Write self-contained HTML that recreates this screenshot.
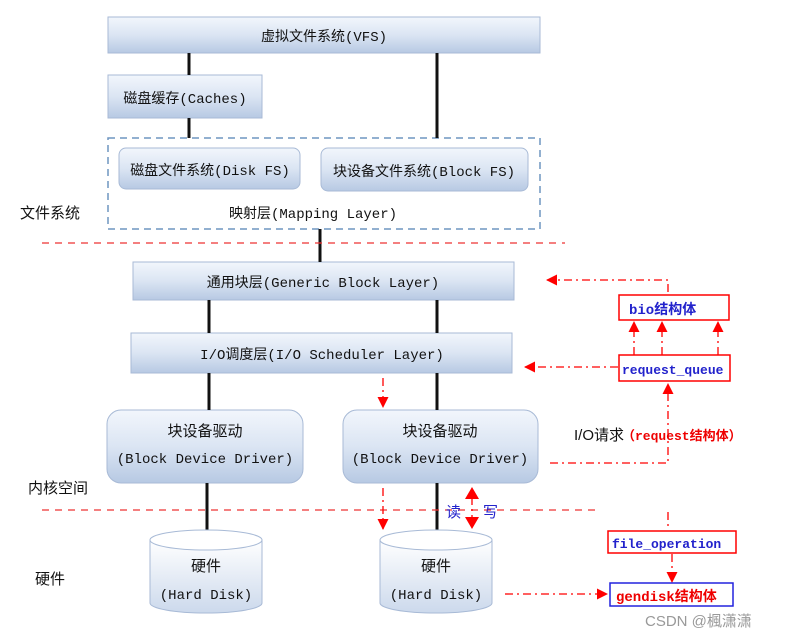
<!DOCTYPE html>
<html><head><meta charset="utf-8">
<style>
html,body{margin:0;padding:0;background:#fff;}
svg{display:block;}
text{font-family:"Liberation Mono","Noto Sans CJK SC",monospace;}
.cn{font-family:"Liberation Sans","Noto Sans CJK SC",sans-serif;}
</style></head><body>
<svg width="793" height="636" viewBox="0 0 793 636" xmlns="http://www.w3.org/2000/svg">
<defs>
<linearGradient id="g" x1="0" y1="0" x2="0" y2="1">
<stop offset="0" stop-color="#f2f6fc"/><stop offset="0.5" stop-color="#dbe5f3"/><stop offset="1" stop-color="#b7c9e3"/>
</linearGradient>
<linearGradient id="gc" x1="0" y1="0" x2="0" y2="1">
<stop offset="0" stop-color="#ffffff"/><stop offset="1" stop-color="#ccd9ec"/>
</linearGradient>
<marker id="ar" markerWidth="11" markerHeight="11" refX="10" refY="5.5" orient="auto" markerUnits="userSpaceOnUse">
<path d="M0,0 L11,5.5 L0,11 Z" fill="#f00"/></marker>
</defs>
<g stroke="#a8bad6" stroke-width="1">
<rect x="108" y="17" width="432" height="36" fill="url(#g)"/>
<rect x="108" y="75" width="154" height="43" fill="url(#g)"/>
<rect x="119" y="148" width="181" height="41" rx="7" fill="url(#g)"/>
<rect x="321" y="148" width="207" height="43" rx="7" fill="url(#g)"/>
<rect x="133" y="262" width="381" height="38" fill="url(#g)"/>
<rect x="131" y="333" width="381" height="40" fill="url(#g)"/>
<rect x="107" y="410" width="196" height="73" rx="14" fill="url(#g)"/>
<rect x="343" y="410" width="195" height="73" rx="14" fill="url(#g)"/>
</g>
<rect x="108" y="138" width="432" height="91" fill="none" stroke="#6f95c0" stroke-width="1.5" stroke-dasharray="7,5"/>
<g stroke="#111" stroke-width="3">
<line x1="189" y1="53" x2="189" y2="75"/><line x1="189" y1="118" x2="189" y2="138"/>
<line x1="437" y1="53" x2="437" y2="138"/><line x1="320" y1="229" x2="320" y2="262"/>
<line x1="209" y1="300" x2="209" y2="333"/><line x1="437" y1="300" x2="437" y2="333"/>
<line x1="209" y1="373" x2="209" y2="410"/><line x1="437" y1="373" x2="437" y2="410"/>
<line x1="207" y1="483" x2="207" y2="531"/><line x1="437" y1="483" x2="437" y2="531"/>
</g>
<g stroke="#a8bad6" stroke-width="1">
<path d="M150,540 L150,603 A56,10 0 0 0 262,603 L262,540 Z" fill="url(#gc)"/>
<ellipse cx="206" cy="540" rx="56" ry="10" fill="#fff"/>
<path d="M380,540 L380,603 A56,10 0 0 0 492,603 L492,540 Z" fill="url(#gc)"/>
<ellipse cx="436" cy="540" rx="56" ry="10" fill="#fff"/>
</g>
<g stroke="#e33" stroke-width="1.3" fill="none">
<line x1="42" y1="243" x2="565" y2="243" stroke-dasharray="7,6"/>
<line x1="42" y1="510" x2="600" y2="510" stroke-dasharray="7,6"/>
</g>
<g stroke="#f00" stroke-width="1.3" fill="none" stroke-dasharray="8,4,2,4">
<polyline points="668,292 668,280 547,280" marker-end="url(#ar)"/>
<line x1="618" y1="367" x2="525" y2="367" marker-end="url(#ar)"/>
<line x1="634" y1="355" x2="634" y2="322" marker-end="url(#ar)"/>
<line x1="662" y1="355" x2="662" y2="322" marker-end="url(#ar)"/>
<line x1="718" y1="355" x2="718" y2="322" marker-end="url(#ar)"/>
<polyline points="550,463 668,463 668,384" marker-end="url(#ar)"/>
<line x1="383" y1="378" x2="383" y2="407" marker-end="url(#ar)"/>
<line x1="383" y1="488" x2="383" y2="529" marker-end="url(#ar)"/>
<line x1="668" y1="512" x2="668" y2="530"/>
<line x1="672" y1="554" x2="672" y2="582" marker-end="url(#ar)"/>
<line x1="505" y1="594" x2="607" y2="594" marker-end="url(#ar)"/>
<line x1="472" y1="497" x2="472" y2="520"/>
</g>
<path d="M465,499 L472,487 L479,499 Z M465,517 L472,529 L479,517 Z" fill="#f00"/>
<g fill="#fff" stroke-width="1.5">
<rect x="619" y="295" width="110" height="25" stroke="#f00"/>
<rect x="619" y="355" width="111" height="26" stroke="#f00"/>
<rect x="608" y="531" width="128" height="22" stroke="#f00"/>
<rect x="610" y="583" width="123" height="23" stroke="#22d"/>
</g>
<g font-size="14" fill="#111" text-anchor="middle">
<text x="324" y="41">虚拟文件系统(VFS)</text>
<text x="185" y="103">磁盘缓存(Caches)</text>
<text x="210" y="175">磁盘文件系统(Disk FS)</text>
<text x="424" y="176">块设备文件系统(Block FS)</text>
<text x="313" y="218">映射层(Mapping Layer)</text>
<text x="323" y="287">通用块层(Generic Block Layer)</text>
<text x="322" y="359">I/O调度层(I/O Scheduler Layer)</text>
<text x="205" y="436" class="cn" font-size="15">块设备驱动</text>
<text x="205" y="463">(Block Device Driver)</text>
<text x="440" y="436" class="cn" font-size="15">块设备驱动</text>
<text x="440" y="463">(Block Device Driver)</text>
<text x="206" y="571" class="cn" font-size="15">硬件</text>
<text x="206" y="599">(Hard Disk)</text>
<text x="436" y="571" class="cn" font-size="15">硬件</text>
<text x="436" y="599">(Hard Disk)</text>
</g>
<g font-size="15" fill="#111">
<text x="20" y="218" class="cn">文件系统</text>
<text x="28" y="493" class="cn">内核空间</text>
<text x="35" y="584" class="cn">硬件</text>
<text x="574" y="440" class="cn">I/O请求</text>
</g>
<text x="622" y="440" font-size="13" fill="#e00" font-weight="bold">（request结构体）</text>
<text x="446" y="517" class="cn" font-size="15" fill="#22c">读</text>
<text x="483" y="517" class="cn" font-size="15" fill="#22c">写</text>
<text x="629" y="314" font-size="14" fill="#22c" font-weight="bold">bio结构体</text>
<text x="622" y="374" font-size="13" fill="#22c" font-weight="bold">request_queue</text>
<text x="612" y="548" font-size="13" fill="#22c" font-weight="bold">file_operation</text>
<text x="616" y="601" font-size="14" fill="#e00" font-weight="bold">gendisk结构体</text>
<text x="645" y="626" class="cn" font-size="15" fill="#999">CSDN @楓潇潇</text>
</svg>
</body></html>
